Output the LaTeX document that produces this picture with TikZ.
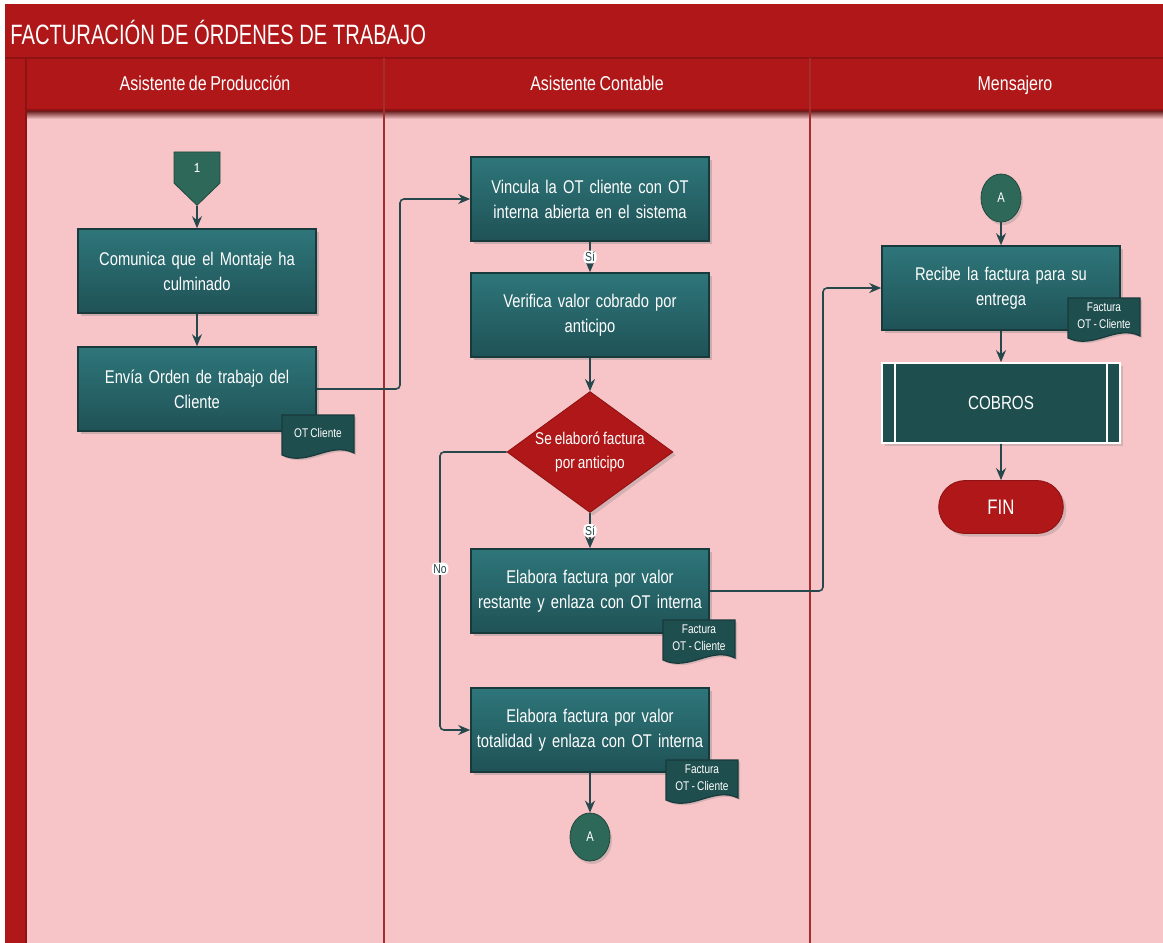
\documentclass[tikz,border=0pt]{standalone}
\usepackage{fontspec}
\setmainfont{Liberation Sans}[FakeStretch=0.8,WordSpace=0.8]
\newfontfamily\ttlfont{Liberation Sans}[FakeStretch=0.72]
\usepackage{tikz}
\usetikzlibrary{shapes.geometric,shapes.misc,shapes.symbols,arrows.meta,shadows}
\definecolor{HdrRed}  {RGB}{175,23,24}
\definecolor{HdrDark} {RGB}{140,18,20}
\definecolor{LanePink}{RGB}{247,197,199}
\definecolor{LaneLine}{RGB}{165,45,45}
\definecolor{BoxTop}  {RGB}{46,118,122}
\definecolor{BoxBot}  {RGB}{31,82,86}
\definecolor{BoxLine} {RGB}{24,58,60}
\definecolor{DocFill} {RGB}{31,78,78}
\definecolor{OffFill} {RGB}{46,104,88}
\definecolor{ArrLine} {RGB}{38,72,76}
\tikzset{
  ttl/.style={text=white,font=\ttlfont\fontsize{14}{16}\selectfont,inner sep=0pt},
  lane_hdr/.style={text=white,font=\fontsize{10}{12}\selectfont,inner sep=0pt,text height=8pt,text depth=2.5pt},
  nd_act/.style={rectangle,draw=BoxLine,line width=0.8pt,top color=BoxTop,bottom color=BoxBot,
    minimum width=119pt,minimum height=42pt,text width=118pt,inner xsep=0.5pt,align=center,text=white,
    font=\fontsize{9.2}{12.5}\selectfont,drop shadow={opacity=0.35,shadow xshift=1.5pt,shadow yshift=-1.5pt}},
  nd_sub/.style={rectangle,draw=white,line width=0.8pt,fill=DocFill,minimum width=119pt,minimum height=40pt,
    text=white,font=\fontsize{9.5}{12}\selectfont,drop shadow={opacity=0.3,shadow xshift=1.5pt,shadow yshift=-1.5pt},
    path picture={\draw[white,line width=0.6pt]
      ([xshift=6.5pt]path picture bounding box.north west) -- ([xshift=6.5pt]path picture bounding box.south west)
      ([xshift=-6.5pt]path picture bounding box.north east) -- ([xshift=-6.5pt]path picture bounding box.south east);}},
  nd_dec/.style={diamond,fill=HdrRed,draw=HdrDark,minimum width=83pt,minimum height=60.5pt,inner sep=0pt,
    drop shadow={opacity=0.3,shadow xshift=1.5pt,shadow yshift=-1.5pt}},
  dec_txt/.style={text=white,align=center,font=\fontsize{8.5}{12}\selectfont,inner sep=0pt},
  nd_end/.style={rounded rectangle,fill=HdrRed,draw=HdrDark,minimum width=69pt,
    minimum height=26.5pt,text=white,font=\fontsize{10.5}{12}\selectfont,
    drop shadow={opacity=0.3,shadow xshift=1.5pt,shadow yshift=-1.5pt}},
  nd_con/.style={ellipse,fill=OffFill,draw=OffFill!70!black,minimum width=20pt,minimum height=24pt,inner sep=0pt,
    text=white,font=\fontsize{7}{8}\selectfont,drop shadow={opacity=0.3,shadow xshift=1pt,shadow yshift=-1.5pt}},
  nd_off/.style={signal,signal to=south,signal from=nowhere,signal pointer angle=92,fill=OffFill,
    draw=OffFill!70!black,minimum width=23pt,minimum height=17.5pt,inner sep=0pt,text=white,
    font=\ttfamily\fontsize{7.5}{8}\selectfont},
  doc_shape/.style={fill=DocFill,draw=BoxLine,line width=0.6pt,drop shadow={opacity=0.3,shadow xshift=1pt,shadow yshift=-1pt}},
  doc_txt/.style={text=white,align=center,font=\fontsize{6.3}{8.5}\selectfont,inner sep=0pt},
  arr/.style={-{Stealth[length=6pt,width=5pt]},draw=ArrLine,line width=0.8pt,rounded corners=2pt},
  lbl/.style={fill=white,inner sep=0.8pt,text=ArrLine,font=\fontsize{6.5}{7}\selectfont},
}
% document symbol: name, centre x, top y, text
\newcommand{\docnote}[4]{%
  \path[doc_shape] ({#2-36},#3) -- ({#2+36},#3) -- ({#2+36},{#3+38})
    .. controls ({#2+12},{#3+26}) and ({#2-10},{#3+52}) .. ({#2-36},{#3+40}) -- cycle;
  \node[doc_txt] (#1) at (#2,{#3+18}) {#4};}

\begin{document}
\begin{tikzpicture}[x=0.5pt,y=-0.5pt]
\useasboundingbox (0,0) rectangle (1163,943);
\fill[white] (0,0) rectangle (1163,943);
\fill[HdrRed] (5,4) rectangle (1163,943);
\node[ttl,anchor=west] (T) at (10,32) {FACTURACIÓN DE ÓRDENES DE TRABAJO};
% lanes
\fill[LanePink] (26,110) rectangle (1163,943);
\shade[top color=black!50!HdrRed,bottom color=LanePink] (26,110) rectangle (1163,119);
\draw[HdrDark,line width=0.8pt] (5,58) -- (1163,58) (26,58) -- (26,943) (26,110) -- (1163,110);
\foreach \x in {384,810}{\draw[LaneLine,line width=1.2pt] (\x,58) -- (\x,943);}
\node[lane_hdr] (L1) at (205,85) {Asistente de Producción};
\node[lane_hdr] (L2) at (597,85) {Asistente Contable};
\node[lane_hdr] (L3) at (1015,85) {Mensajero};
\def\cA{197}\def\cB{590}\def\cC{1001}
% Asistente de Produccion
\node[nd_off] (S)  at (\cA,167.5) {1};
\node[nd_act] (A1) at (\cA,271) {Comunica que el Montaje ha\\culminado};
\node[nd_act] (A2) at (\cA,389) {Envía Orden de trabajo del\\Cliente};
\docnote{dA}{318}{415}{OT Cliente}
% Asistente Contable
\node[nd_act] (B1) at (\cB,199) {Vincula la OT cliente con OT\\interna abierta en el sistema};
\node[nd_act] (B2) at (\cB,315) {Verifica valor cobrado por\\anticipo};
\node[nd_dec,label={[dec_txt]center:Se elaboró factura\\por anticipo}] (BD) at (\cB,452) {};
\node[nd_act] (B3) at (\cB,591) {Elabora factura por valor\\restante y enlaza con OT interna};
\docnote{dB}{699}{620}{Factura\\OT - Cliente}
\node[nd_act] (B4) at (\cB,730) {Elabora factura por valor\\totalidad y enlaza con OT interna};
\docnote{dC}{702}{760}{Factura\\OT - Cliente}
\node[nd_con] (BA) at (\cB,837) {A};
% Mensajero
\node[nd_con] (CA) at (\cC,198) {A};
\node[nd_act] (C1) at (\cC,288) {Recibe la factura para su\\entrega};
\docnote{dD}{1104}{298}{Factura\\OT - Cliente}
\node[nd_sub] (C2) at (\cC,403) {COBROS};
\node[nd_end] (C3) at (\cC,507) {FIN};
% arrows
\draw[arr] (S) -- (A1);
\draw[arr] (A1) -- (A2);
\draw[arr] (A2.east) -- (400,389) |- (B1.west);
\draw[arr] (B1) -- node[lbl]{Sí} (B2);
\draw[arr] (B2) -- (BD);
\draw[arr] (BD) -- node[lbl]{Sí} (B3);
\draw[arr] (BD.west) -- (440,452) |- node[lbl,pos=0.21]{No} (B4.west);
\draw[arr] (B4) -- (BA);
\draw[arr] (B3.east) -- (823,591) |- (C1.west);
\draw[arr] (CA) -- (C1);
\draw[arr] (C1) -- (C2);
\draw[arr] (C2) -- (C3);
\end{tikzpicture}
\end{document}
